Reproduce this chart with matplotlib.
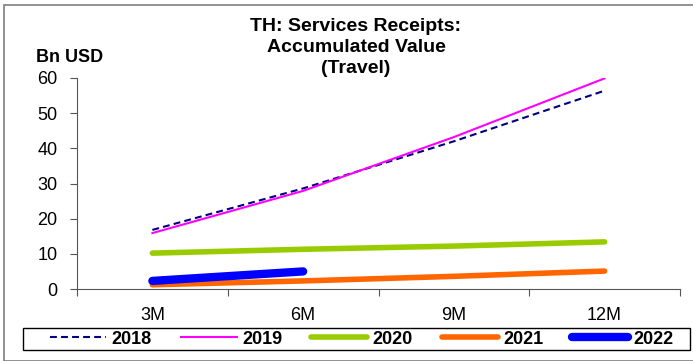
import numpy as np
import matplotlib
matplotlib.use("Agg")
import matplotlib.pyplot as plt
from matplotlib.patches import Rectangle

plt.rcParams['font.family'] = ['Liberation Sans', 'DejaVu Sans']

# Accumulated travel receipts, Bn USD
periods = ['3M', '6M', '9M', '12M']
y2018 = [16.8, 28.6, 42.0, 56.4]
y2019 = [15.9, 27.9, 43.2, 59.9]
y2020 = [10.2, 11.3, 12.2, 13.4]
y2021 = [1.2, 2.3, 3.6, 5.1]
y2022 = [2.3, 5.0]
title_lines = ['TH: Services Receipts:', 'Accumulated Value', '(Travel)']

W, H = 693, 361
fig = plt.figure(figsize=(W / 100, H / 100), dpi=100)

def fx(px):
    return px / W

def fy(py):
    return 1 - py / H

# outer frame of the chart
fig.patches.append(Rectangle((fx(4), 0), 1, fy(5), transform=fig.transFigure,
                             fill=False, edgecolor='#7f7f7f', linewidth=1.2))

left, right, top, bottom = 77, 680, 78, 289
ax = fig.add_axes([fx(left), fy(bottom), (right - left) / W, (bottom - top) / H])

x = np.arange(len(periods))
ax.plot(x, y2018, color='#000080', linestyle=(0, (3.3, 2)), linewidth=1.5, label='2018')
ax.plot(x, y2019, color='#ff00ff', linewidth=1.5, label='2019')
ax.plot(x, y2020, color='#99cc00', linewidth=4, solid_capstyle='round', label='2020')
ax.plot(x, y2021, color='#ff6600', linewidth=4, solid_capstyle='round', label='2021')
ax.plot(x[:len(y2022)], y2022, color='#0000ff', linewidth=6, solid_capstyle='round', label='2022')

ax.set_xlim(-0.5, 3.5)
ax.set_ylim(0, 60)
ax.set_yticks(range(0, 61, 10))
ax.set_xticks(np.arange(-0.5, 4, 1))
ax.set_xticklabels([])
ax.set_xticks(x, minor=True)
ax.set_xticklabels(periods, minor=True)
ax.tick_params(axis='x', which='major', direction='out', length=5, color='#555555')
ax.tick_params(axis='x', which='minor', length=0, pad=13, labelsize=13)
ax.tick_params(axis='y', direction='out', length=5, pad=9, labelsize=13, color='#555555')

for side in ['top', 'right']:
    ax.spines[side].set_visible(False)
for side in ['left', 'bottom']:
    ax.spines[side].set_color('#555555')

# three-line title, one baseline per line
for i, line in enumerate(title_lines):
    fig.text(fx(356), fy(31 + 21 * i), line, ha='center', va='baseline',
             fontsize=14, fontweight='bold')
fig.text(fx(36), fy(62), 'Bn USD', ha='left', va='baseline', fontsize=13, fontweight='bold')

# legend box drawn separately, entries spread inside it
fig.patches.append(Rectangle((fx(23), fy(350)), (690 - 23) / W, (350 - 328) / H,
                             transform=fig.transFigure, fill=False,
                             edgecolor='black', linewidth=1.0))
fig.legend(loc='center', ncol=5, mode='expand',
           bbox_to_anchor=(fx(50), fy(350), (674 - 50) / W, (350 - 328) / H),
           bbox_transform=fig.transFigure,
           prop={'weight': 'bold', 'size': 13}, handlelength=3.1,
           handletextpad=0.3, columnspacing=1.0, borderaxespad=0, borderpad=0,
           frameon=False)

fig.savefig('out.png', dpi=100)
